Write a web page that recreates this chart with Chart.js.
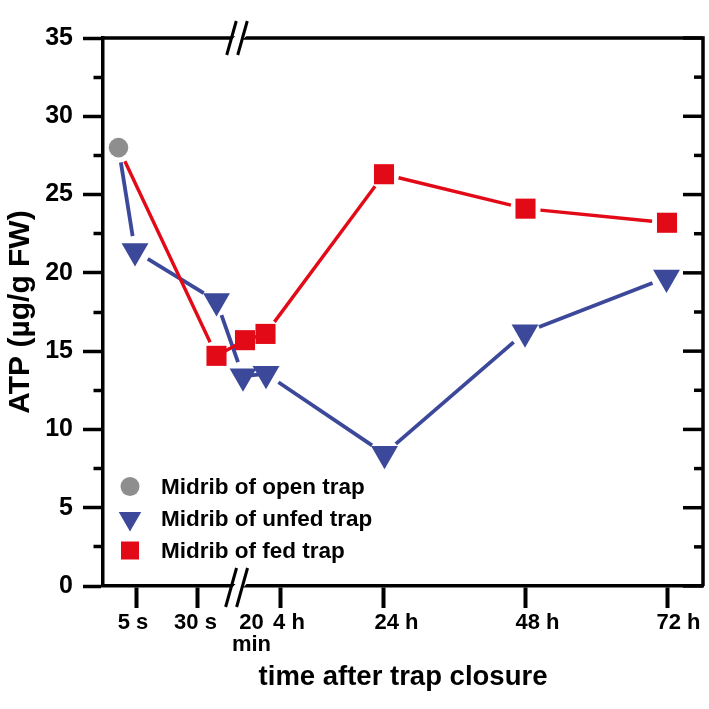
<!DOCTYPE html>
<html>
<head>
<meta charset="utf-8">
<script src="https://cdn.jsdelivr.net/npm/chart.js@4.4.1/dist/chart.umd.min.js"></script>
<style>
    html, body { margin: 0; padding: 0; background: #fff; }
    #wrap { width: 709px; height: 709px; }
</style>
</head>
<body>
<div id="wrap"><canvas id="myChart" width="709" height="709"></canvas></div>
<script>
// x = position on the broken time axis (seconds part left of the break, minutes/hours right of it)
const openX = [1.55];
const openATP = [28.0];

const unfedX = [1.55, 3.2, 11.35, 14.0, 16.3, 28.15, 42.2, 56.35];
const unfedATP = [28.0, 21.4, 18.2, 13.4, 13.55, 8.45, 16.2, 19.7];

const fedX = [1.55, 11.35, 14.2, 16.25, 28.1, 42.25, 56.4];
const fedATP = [28.0, 14.7, 15.7, 16.1, 26.3, 24.1, 23.2];

const timeLabels = ['5 s', '30 s', ['20', 'min'], '4 h', '24 h', '48 h', '72 h'];
const timeLabelX = [3.0, 9.25, 14.85, 18.6, 29.35, 43.45, 57.55];
const timeMarkX = [3.3, 9.45, 17.7, 28.0, 42.2, 56.4];
const breakX = 13.4;

const seriesLabels = ['Midrib of open trap', 'Midrib of unfed trap', 'Midrib of fed trap'];

const FONT = "'Liberation Sans', Arial, sans-serif";
const BLUE = '#3c4899';
const RED = '#e30a17';
const GREY = '#8e8e8e';

function points(xs, ys) {
    return xs.map((x, i) => ({ x: x, y: ys[i] }));
}

// lines between markers, stopped short of each marker like the original
const gapLines = {
    id: 'gapLines',
    beforeDatasetsDraw(chart) {
        const ctx = chart.ctx;
        chart.data.datasets.forEach((ds, i) => {
            if (!ds.gapLine) return;
            const pts = chart.getDatasetMeta(i).data;
            ctx.save();
            ctx.strokeStyle = ds.gapLine.color;
            ctx.lineWidth = ds.gapLine.width;
            for (let k = 1; k < pts.length; k++) {
                const a = pts[k - 1], b = pts[k];
                const dx = b.x - a.x, dy = b.y - a.y;
                const len = Math.hypot(dx, dy);
                const gap = len > 40 ? 15 : 0;
                ctx.beginPath();
                ctx.moveTo(a.x + dx / len * gap, a.y + dy / len * gap);
                ctx.lineTo(b.x - dx / len * gap, b.y - dy / len * gap);
                ctx.stroke();
            }
            ctx.restore();
        });
    }
};

// top/right frame, inward ticks on the right, axis break marks
const frame = {
    id: 'frame',
    afterDraw(chart) {
        const { ctx, chartArea } = chart;
        const x = chart.scales.x, y = chart.scales.y;
        ctx.save();
        ctx.strokeStyle = '#000';
        ctx.lineWidth = 3.5;
        ctx.beginPath();
        ctx.moveTo(chartArea.left, chartArea.top);
        ctx.lineTo(chartArea.right, chartArea.top);
        ctx.lineTo(chartArea.right, chartArea.bottom);
        ctx.stroke();

        y.ticks.forEach((t) => {
            const py = y.getPixelForValue(t.value);
            const len = t.value % 5 === 0 ? 20 : 9;
            ctx.beginPath();
            ctx.moveTo(chartArea.right, py);
            ctx.lineTo(chartArea.right - len, py);
            ctx.stroke();
        });

        const bx = x.getPixelForValue(breakX);
        [[chartArea.top, 17, 17], [chartArea.bottom, 18, 21]].forEach(([ay, up, down]) => {
            const slant = 0.28;
            ctx.fillStyle = '#fff';
            ctx.beginPath();
            ctx.moveTo(bx - 5.5 + up * slant, ay - 3);
            ctx.lineTo(bx + 5.5 + up * slant, ay - 3);
            ctx.lineTo(bx + 5.5 - 3 * slant, ay + 3);
            ctx.lineTo(bx - 5.5 - 3 * slant, ay + 3);
            ctx.closePath();
            ctx.fill();
            ctx.lineWidth = 3;
            [-5.5, 5.5].forEach((off) => {
                ctx.beginPath();
                ctx.moveTo(bx + off + up * slant, ay - up);
                ctx.lineTo(bx + off - down * slant, ay + down);
                ctx.stroke();
            });
        });
        ctx.restore();
    }
};

// legend in the lower left of the plot
const legendBox = {
    id: 'legendBox',
    afterDraw(chart) {
        const { ctx, chartArea } = chart;
        const left = chartArea.left + 27;
        const top = chartArea.bottom - 99.5;
        const shapes = [
            { style: 'circle', r: 9.5, color: GREY },
            { style: 'triangle', r: 13, color: BLUE },
            { style: 'rect', r: 9, color: RED }
        ];
        ctx.save();
        ctx.font = 'bold 22.5px ' + FONT;
        ctx.textBaseline = 'middle';
        ctx.textAlign = 'left';
        shapes.forEach((s, i) => {
            const cy = top + i * 32;
            ctx.fillStyle = s.color;
            ctx.beginPath();
            if (s.style === 'circle') {
                ctx.arc(left, cy, s.r, 0, Math.PI * 2);
            } else if (s.style === 'triangle') {
                const h = s.r * Math.sqrt(3) / 2;
                ctx.moveTo(left - h, cy - s.r / 2);
                ctx.lineTo(left + h, cy - s.r / 2);
                ctx.lineTo(left, cy + s.r);
                ctx.closePath();
            } else {
                ctx.rect(left - s.r, cy - s.r, s.r * 2, s.r * 2);
            }
            ctx.fill();
            ctx.fillStyle = '#000';
            ctx.fillText(seriesLabels[i], left + 31, cy + 1);
        });
        ctx.restore();
    }
};

const ctx = document.getElementById('myChart');

const data = {
    datasets: [
        {
            label: seriesLabels[0],
            data: points(openX, openATP),
            showLine: false,
            pointStyle: 'circle',
            pointRadius: 9.8,
            pointBackgroundColor: GREY,
            pointBorderWidth: 0,
            order: 2
        },
        {
            label: seriesLabels[1],
            data: points(unfedX, unfedATP),
            showLine: false,
            gapLine: { color: BLUE, width: 3.8 },
            pointStyle: 'triangle',
            rotation: 180,
            pointRadius: (c) => c.dataIndex === 0 ? 0 : 15.5,
            pointBackgroundColor: BLUE,
            pointBorderWidth: 0,
            order: 3
        },
        {
            label: seriesLabels[2],
            data: points(fedX, fedATP),
            showLine: false,
            gapLine: { color: RED, width: 3.4 },
            pointStyle: 'rect',
            pointRadius: (c) => c.dataIndex === 0 ? 0 : 14.2,
            pointBackgroundColor: RED,
            pointBorderWidth: 0,
            order: 1
        }
    ]
};

const options = {
    responsive: false,
    animation: false,
    layout: {
        autoPadding: false,
        padding: { top: 38, right: 6, left: 0, bottom: 0 }
    },
    plugins: {
        legend: { display: false },
        tooltip: { enabled: false }
    },
    scales: {
        x: {
            type: 'linear',
            min: 0,
            max: 60,
            afterFit: (scale) => {
                scale.height = 123;
                scale.paddingLeft = 0;
                scale.paddingRight = 0;
            },
            afterBuildTicks: (scale) => {
                const ticks = [];
                timeLabelX.forEach((v, i) => ticks.push({ value: v, text: timeLabels[i], mark: false }));
                timeMarkX.forEach((v) => ticks.push({ value: v, text: '', mark: true }));
                ticks.sort((a, b) => a.value - b.value);
                scale.ticks = ticks;
            },
            border: { display: true, color: '#000', width: 3.5 },
            grid: {
                drawOnChartArea: false,
                drawTicks: true,
                tickLength: 22,
                tickWidth: 4,
                tickColor: (c) => c.tick && c.tick.mark ? '#000' : 'rgba(0,0,0,0)'
            },
            ticks: {
                autoSkip: false,
                maxRotation: 0,
                minRotation: 0,
                padding: 4,
                color: '#000',
                font: { family: FONT, size: 22, weight: 'bold', lineHeight: 1.0 },
                callback: function (val, index, ticks) {
                    return ticks[index].text;
                }
            },
            title: {
                display: true,
                text: 'time after trap closure',
                color: '#000',
                font: { family: FONT, size: 27.5, weight: 'bold' },
                padding: { top: 0, bottom: 15 }
            }
        },
        y: {
            min: 0,
            max: 35,
            afterFit: (scale) => {
                scale.width = 103;
                scale.paddingTop = 0;
                scale.paddingBottom = 0;
            },
            border: { display: true, color: '#000', width: 3.5 },
            grid: {
                drawOnChartArea: false,
                drawTicks: true,
                tickLength: 20,
                tickWidth: 3.5,
                tickColor: '#000',
                tickBorderDash: (c) => c.tick && c.tick.value % 5 !== 0 ? [0, 10.5, 30] : []
            },
            ticks: {
                stepSize: 2.5,
                autoSkip: false,
                padding: 10,
                color: '#000',
                font: { family: FONT, size: 25, weight: 'bold' },
                callback: (val) => val % 5 === 0 ? val : ''
            },
            title: {
                display: true,
                text: 'ATP (µg/g FW)',
                color: '#000',
                font: { family: FONT, size: 30, weight: 'bold' },
                padding: { top: 3, bottom: 0 }
            }
        }
    }
};

new Chart(ctx, {
    type: 'scatter',
    data: data,
    options: options,
    plugins: [gapLines, frame, legendBox]
});
</script>
</body>
</html>
